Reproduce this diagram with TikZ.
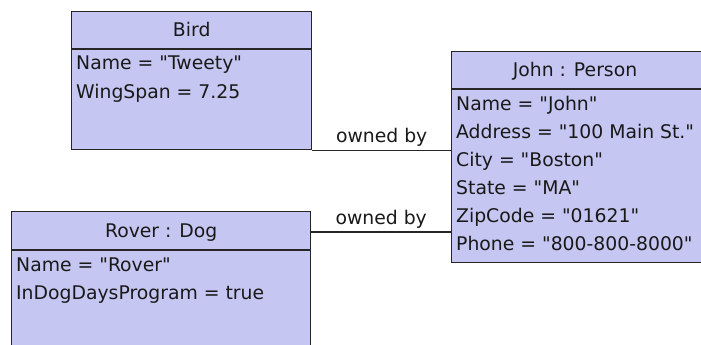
\documentclass[tikz,border=0pt]{standalone}
\usepackage{fontspec}
\newfontfamily\umlfont{DejaVu Sans}
\usepackage{tikz}
\usetikzlibrary{positioning, calc}

\definecolor{objfill}{RGB}{198,198,242}
\definecolor{objline}{RGB}{38,38,38}

\begin{document}
\begin{tikzpicture}[x=1pt, y=-1pt,
    objbox/.style={draw=objline, fill=objfill, line width=1.4pt, rectangle, anchor=north west, inner sep=0pt},
    objrule/.style={draw=objline, line width=1.4pt},
    objtitle/.style={anchor=base, inner sep=0pt, text=black!90, font=\umlfont\fontsize{18.8}{22}\selectfont},
    objattr/.style={anchor=base west, inner sep=0pt, text=black!90, font=\umlfont\fontsize{18.8}{22}\selectfont},
    link/.style={draw=objline, line width=1.2pt},
    linklabel/.style={anchor=base, inner sep=0pt, yshift=8pt, text=black!90, font=\umlfont\fontsize{18.8}{22}\selectfont}]

    % Page
    \useasboundingbox[fill=white] (0,0) rectangle (701,345);

    % Bird
    \node[objbox, minimum width=240pt, minimum height=138pt] (bird) at (71,11) {};
    \draw[objrule] ([yshift=-38pt]bird.north west) -- ([yshift=-38pt]bird.north east);
    \node[objtitle] (bird-name) at ([yshift=-26pt]bird.north) {Bird};
    \node[objattr] (bird-a1) at ([xshift=5pt, yshift=-59pt]bird.north west) {Name = "Tweety"};
    \node[objattr] (bird-a2) at ([xshift=5pt, yshift=-87pt]bird.north west) {WingSpan = 7.25};

    % John : Person (runs off the right side)
    \node[objbox, minimum width=260pt, minimum height=211pt] (john) at (451,51) {};
    \draw[objrule] ([yshift=-38pt]john.north west) -- ([yshift=-38pt]john.north east);
    \node[objtitle] (john-name) at ([yshift=-26pt]john.north west -| 575,0) {John : Person};
    \node[objattr] (john-a1) at ([xshift=5pt, yshift=-59pt]john.north west) {Name = "John"};
    \node[objattr] (john-a2) at ([xshift=5pt, yshift=-87pt]john.north west) {Address = "100 Main St."};
    \node[objattr] (john-a3) at ([xshift=5pt, yshift=-115pt]john.north west) {City = "Boston"};
    \node[objattr] (john-a4) at ([xshift=5pt, yshift=-143pt]john.north west) {State = "MA"};
    \node[objattr] (john-a5) at ([xshift=5pt, yshift=-171pt]john.north west) {ZipCode = "01621"};
    \node[objattr] (john-a6) at ([xshift=5pt, yshift=-199pt]john.north west) {Phone = "800-800-8000"};

    % Rover : Dog (runs off the bottom)
    \node[objbox, minimum width=299pt, minimum height=160pt] (rover) at (11,211) {};
    \draw[objrule] ([yshift=-39pt]rover.north west) -- ([yshift=-39pt]rover.north east);
    \node[objtitle] (rover-name) at ([yshift=-26.5pt]rover.north) {Rover : Dog};
    \node[objattr] (rover-a1) at ([xshift=5pt, yshift=-60pt]rover.north west) {Name = "Rover"};
    \node[objattr] (rover-a2) at ([xshift=5pt, yshift=-88pt]rover.north west) {InDogDaysProgram = true};

    % Links
    \draw[link] (bird.south east) -- (bird.south east -| john.west)
        node[linklabel, midway] (own1) {owned by};
    \coordinate (rover-link) at ([yshift=-21pt]rover.north east);
    \draw[link] (rover-link) -- (rover-link -| john.west)
        node[linklabel, midway] (own2) {owned by};

\end{tikzpicture}
\end{document}
